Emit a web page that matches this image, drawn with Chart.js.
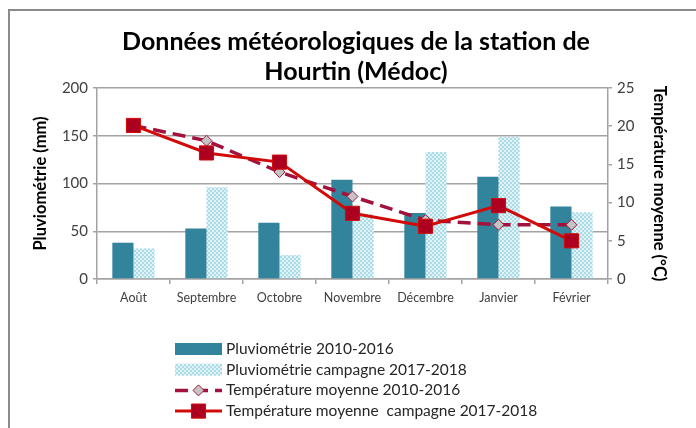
<!DOCTYPE html>
<html><head><meta charset="utf-8">
<script src="https://cdn.jsdelivr.net/npm/chart.js@4"></script>
<style>
html,body{margin:0;padding:0;background:#fff;overflow:hidden;}
#wrap{position:relative;width:696px;height:428px;overflow:hidden;}
.ln{position:absolute;background:#8a8a8a;pointer-events:none;}
canvas{position:absolute;left:0;top:0;}
</style></head>
<body>
<div id="wrap"><canvas id="c" width="696" height="428"></canvas>
<div class="ln" style="left:8px;top:9px;width:688px;height:2px;"></div>
<div class="ln" style="left:8px;top:9px;width:2px;height:419px;"></div>
</div>
<script>
const months = ['Août','Septembre','Octobre','Novembre','Décembre','Janvier','Février'];
const pluvio2010 = [38, 53, 59, 104, 69, 107, 76];
const pluvio2017 = [32, 96, 25, 68, 133, 149, 70];
const temp2010 = [20.1, 18.1, 14.0, 10.8, 7.7, 7.1, 7.1];
const temp2017 = [20.1, 16.5, 15.3, 8.6, 6.9, 9.6, 5.0];
const titleLines = ['Données météorologiques de la station de', 'Hourtin (Médoc)'];
const seriesLabels = ['Pluviométrie 2010-2016', 'Pluviométrie campagne 2017-2018', 'Température moyenne 2010-2016', 'Température moyenne  campagne 2017-2018'];

function makePattern(){
  const p = document.createElement('canvas'); p.width = 4; p.height = 4;
  const g = p.getContext('2d');
  g.fillStyle = '#e2f3f7'; g.fillRect(0,0,4,4);
  g.fillStyle = '#abdbe6';
  g.fillRect(0,0,2,2); g.fillRect(2,2,2,2);
  return g.createPattern(p,'repeat');
}
const ctx = document.getElementById('c').getContext('2d');
const pattern = makePattern();
const FONT = 'Lato';
const gridCol = '#a3a3a3';

function drawMarker(g, style, x, y, r, fill, stroke, bw){
  g.save(); g.setLineDash([]); g.beginPath();
  if (style === 'rect') { const s = Math.SQRT1_2 * r; g.rect(x-s, y-s, 2*s, 2*s); }
  else { g.moveTo(x, y-r); g.lineTo(x+r, y); g.lineTo(x, y+r); g.lineTo(x-r, y); g.closePath(); }
  g.fillStyle = fill; g.fill(); g.lineWidth = bw; g.strokeStyle = stroke; g.stroke(); g.restore();
}

const legendPlugin = {
  id: 'customLegend',
  afterDraw(chart){
    const g = chart.ctx;
    const x0 = 175, x1 = 222, tx = 226, y0 = 349, dy = 20.7;
    chart.data.datasets.forEach((ds, i) => {
      const y = y0 + i*dy;
      g.save();
      if (ds.type === 'bar') {
        g.fillStyle = ds.backgroundColor; g.fillRect(x0, y-6, x1-x0, 12);
      } else {
        g.strokeStyle = ds.borderColor; g.lineWidth = ds.borderWidth;
        g.setLineDash(ds.borderDash || []);
        g.beginPath(); g.moveTo(x0, y); g.lineTo(x1, y); g.stroke();
        drawMarker(g, ds.pointStyle, (x0+x1)/2, y, ds.pointRadius, ds.pointBackgroundColor, ds.pointBorderColor, ds.pointBorderWidth);
      }
      g.fillStyle = '#262626'; g.font = '15.5px ' + FONT; g.textBaseline = 'middle'; g.textAlign = 'left';
      g.fillText(ds.label, tx, y);
      g.restore();
    });
  }
};

new Chart(ctx, {
  data: {
    labels: months,
    datasets: [
      { type:'bar', label: seriesLabels[0], data: pluvio2010, backgroundColor:'#31849b', yAxisID:'y', order:3, barPercentage:1, categoryPercentage:0.58 },
      { type:'bar', label: seriesLabels[1], data: pluvio2017, backgroundColor: pattern, yAxisID:'y', order:4, barPercentage:1, categoryPercentage:0.58 },
      { type:'line', label: seriesLabels[2], data: temp2010, yAxisID:'y2', order:2, borderColor:'#a3123c', borderWidth:3.5, borderDash:[13,7],
        pointStyle:'rectRot', pointRadius:5.5, pointBackgroundColor:'#c4c4c4', pointBorderColor:'#a3123c', pointBorderWidth:1, tension:0, fill:false },
      { type:'line', label: seriesLabels[3], data: temp2017, yAxisID:'y2', order:1, borderColor:'#d10a0a', borderWidth:3,
        pointStyle:'rect', pointRadius:10, pointBackgroundColor:'#ad0020', pointBorderColor:'#d10a0a', pointBorderWidth:1, tension:0, fill:false }
    ]
  },
  options: {
    responsive:false, animation:false,
    layout:{ padding:{ left:16, right:0, top:0, bottom:0 } },
    plugins:{
      legend:{ display:false }, tooltip:{ enabled:false },
      title:{ display:true, text:titleLines, color:'#000', font:{ family:FONT, size:25, weight:'bold', lineHeight:30/25 }, padding:{ top:27, bottom:1 } }
    },
    scales:{
      x:{
        offset:true,
        grid:{ offset:true, drawOnChartArea:false, drawTicks:true, tickLength:5, color:gridCol, lineWidth:1.5 },
        border:{ display:true, color:gridCol, width:1.5 },
        ticks:{ color:'#404040', font:{ family:FONT, size:12.5 }, padding:6, maxRotation:0, autoSkip:false },
        afterFit(s){ s.height = 149; }
      },
      y:{
        position:'left', min:0, max:200,
        ticks:{ stepSize:50, color:'#404040', font:{ family:FONT, size:15 }, padding:5 },
        grid:{ color:gridCol, lineWidth:1.5, tickLength:4 },
        border:{ display:true, color:gridCol, width:1.5 },
        title:{ display:true, text:'Pluviométrie (mm)', color:'#000', font:{ family:FONT, size:16.5, weight:'bold' }, padding:{ top:15, bottom:0 } },
        afterFit(s){ s.width = 81; }
      },
      y2:{
        position:'right', min:0, max:25,
        ticks:{ stepSize:5, color:'#404040', font:{ family:FONT, size:15 }, padding:5 },
        grid:{ drawOnChartArea:false, color:gridCol, lineWidth:1.5, tickLength:4 },
        border:{ display:true, color:gridCol, width:1.5 },
        title:{ display:true, text:'Température moyenne (°C)', color:'#000', font:{ family:FONT, size:16.5, weight:'bold' }, padding:{ top:27, bottom:0 } },
        afterFit(s){ s.width = 88; }
      }
    }
  },
  plugins:[legendPlugin]
});
</script>
</body></html>
